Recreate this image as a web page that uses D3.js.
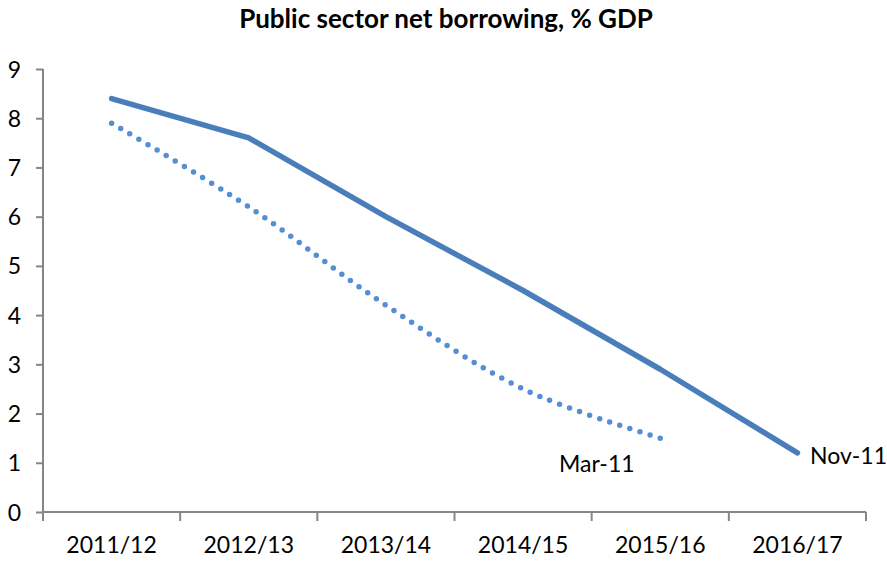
<!DOCTYPE html>
<html>
<head>
<meta charset="utf-8">
<script src="https://cdn.jsdelivr.net/npm/d3@7"></script>
<style>
  body { margin: 0; background: #fff; }
  svg text { font-family: Lato, "Open Sans", sans-serif; fill: #000; }
</style>
</head>
<body>
<svg id="chart"></svg>
<script>
const years = ['2011/12', '2012/13', '2013/14', '2014/15', '2015/16', '2016/17'];
const nov11 = [8.4, 7.6, 6.0, 4.5, 2.9, 1.2];
const mar11 = [7.9, 6.2, 4.2, 2.5, 1.5];
const yTicks = [0, 1, 2, 3, 4, 5, 6, 7, 8, 9];

const width = 887, height = 562;
const margin = { top: 69, right: 21, bottom: 50, left: 43 };

const svg = d3.select('#chart')
    .attr('width', width)
    .attr('height', height);

const x = d3.scaleBand()
    .domain(years)
    .range([margin.left, width - margin.right]);

const y = d3.scaleLinear()
    .domain([0, 9])
    .range([height - margin.bottom, margin.top]);

svg.append('text')
    .attr('x', 446)
    .attr('y', 28)
    .attr('text-anchor', 'middle')
    .style('font-size', '26px')
    .style('font-weight', 'bold')
    .text('Public sector net borrowing, % GDP');

// y axis
const yAxis = svg.append('g')
    .attr('transform', `translate(${margin.left},0)`)
    .call(d3.axisLeft(y).tickValues(yTicks).tickSize(7).tickPadding(15).tickFormat(d3.format('d')));
yAxis.select('.domain').attr('stroke', '#868686').attr('stroke-width', 2).attr('d', `M0,${y(9)}V${y(0)}`);
yAxis.selectAll('.tick line').attr('stroke', '#868686').attr('stroke-width', 2);
yAxis.selectAll('.tick text').style('font-size', '23px').attr('dy', '0.35em');

// x axis
const xAxis = svg.append('g')
    .attr('transform', `translate(0,${y(0)})`)
    .call(d3.axisBottom(x).tickSize(0).tickPadding(24));
xAxis.select('.domain').attr('stroke', '#868686').attr('stroke-width', 2).attr('d', `M${margin.left},0H${width - margin.right}`);
xAxis.selectAll('.tick text').style('font-size', '23px').attr('dy', '0.72em');
xAxis.selectAll('.tick line').remove();
svg.append('g')
    .selectAll('line')
    .data(years.concat(['end']))
    .join('line')
    .attr('x1', (d, i) => margin.left + i * x.step())
    .attr('x2', (d, i) => margin.left + i * x.step())
    .attr('y1', y(0))
    .attr('y2', y(0) + 9)
    .attr('stroke', '#868686')
    .attr('stroke-width', 2);

const cx = (d, i) => x(years[i]) + x.bandwidth() / 2;

const solidLine = d3.line()
    .x(cx)
    .y(d => y(d));

const dottedLine = d3.line()
    .x(cx)
    .y(d => y(d))
    .curve(d3.curveCatmullRom);

svg.append('path')
    .datum(mar11)
    .attr('fill', 'none')
    .attr('stroke', '#558ed5')
    .attr('stroke-width', 5.5)
    .attr('stroke-linecap', 'round')
    .attr('stroke-dasharray', '0 10.6')
    .attr('d', dottedLine);

svg.append('path')
    .datum(nov11)
    .attr('fill', 'none')
    .attr('stroke', '#4a7ebb')
    .attr('stroke-width', 5.5)
    .attr('stroke-linecap', 'round')
    .attr('stroke-linejoin', 'round')
    .attr('d', solidLine);

svg.append('text')
    .attr('x', 559)
    .attr('y', 472)
    .style('font-size', '23px')
    .text('Mar-11');

svg.append('text')
    .attr('x', 810)
    .attr('y', 464)
    .style('font-size', '23px')
    .text('Nov-11');
</script>
</body>
</html>
